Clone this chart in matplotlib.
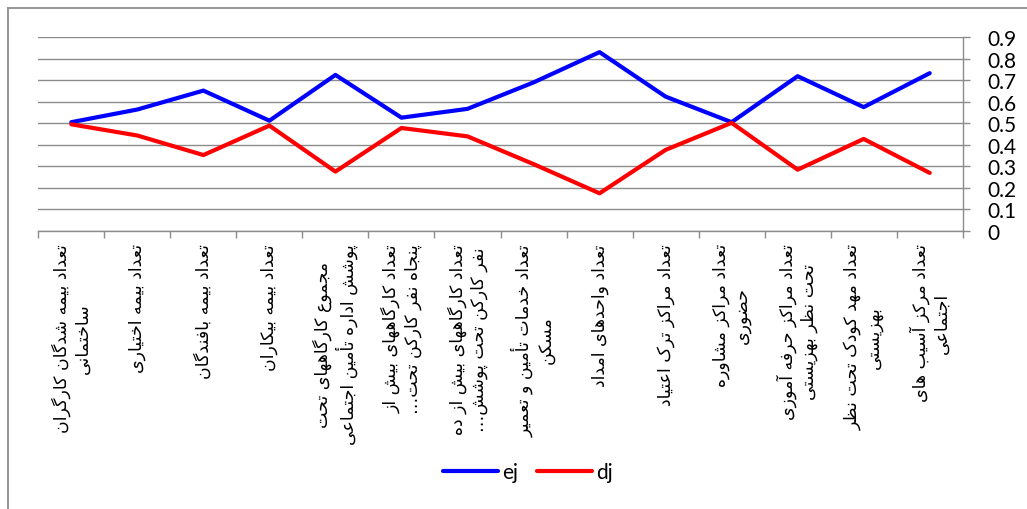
import matplotlib
matplotlib.use('Agg')
import matplotlib.pyplot as plt
from matplotlib.lines import Line2D
import numpy as np

categories = [
    "تعداد بیمه شدگان کارگران\nساختمانی",
    "تعداد بیمه اختیاری",
    "تعداد بیمه بافندگان",
    "تعداد بیمه بیکاران",
    "مجموع کارگاههای تحت\nپوشش اداره تأمین اجتماعی",
    "تعداد کارگاههای بیش از\nپنجاه نفر کارکن تحت…",
    "تعداد کارگاههای بیش از ده\nنفر کارکن تحت پوشش…",
    "تعداد خدمات تأمین و تعمیر\nمسکن",
    "تعداد واحدهای امداد",
    "تعداد مراکز ترک اعتیاد",
    "تعداد مراکز مشاوره\nحضوری",
    "تعداد مراکز حرفه آموزی\nتحت نظر بهزیستی",
    "تعداد مهد کودک تحت نظر\nبهزیستی",
    "تعداد مرکز آسیب های\nاجتماعی",
]
ej = [0.505, 0.564, 0.652, 0.512, 0.725, 0.526, 0.567, 0.690, 0.831, 0.624, 0.505, 0.719, 0.575, 0.733]
dj = [0.495, 0.443, 0.352, 0.489, 0.275, 0.478, 0.439, 0.310, 0.174, 0.376, 0.502, 0.284, 0.427, 0.269]
y_ticks = [0, 0.1, 0.2, 0.3, 0.4, 0.5, 0.6, 0.7, 0.8, 0.9]
y_tick_labels = ["0", "0.1", "0.2", "0.3", "0.4", "0.5", "0.6", "0.7", "0.8", "0.9"]
series_names = ["ej", "dj"]

# --- minimal Persian shaping (presentation forms) + RTL visual order ---
FORMS = {
    '\u0627': ('\uFE8D', '\uFE8E', None, None),
    '\u0622': ('\uFE81', '\uFE82', None, None),
    '\u0623': ('\uFE83', '\uFE84', None, None),
    '\u0628': ('\uFE8F', '\uFE90', '\uFE91', '\uFE92'),
    '\u067E': ('\uFB56', '\uFB57', '\uFB58', '\uFB59'),
    '\u062A': ('\uFE95', '\uFE96', '\uFE97', '\uFE98'),
    '\u062B': ('\uFE99', '\uFE9A', '\uFE9B', '\uFE9C'),
    '\u062C': ('\uFE9D', '\uFE9E', '\uFE9F', '\uFEA0'),
    '\u0686': ('\uFB7A', '\uFB7B', '\uFB7C', '\uFB7D'),
    '\u062D': ('\uFEA1', '\uFEA2', '\uFEA3', '\uFEA4'),
    '\u062E': ('\uFEA5', '\uFEA6', '\uFEA7', '\uFEA8'),
    '\u062F': ('\uFEA9', '\uFEAA', None, None),
    '\u0630': ('\uFEAB', '\uFEAC', None, None),
    '\u0631': ('\uFEAD', '\uFEAE', None, None),
    '\u0632': ('\uFEAF', '\uFEB0', None, None),
    '\u0698': ('\uFB8A', '\uFB8B', None, None),
    '\u0633': ('\uFEB1', '\uFEB2', '\uFEB3', '\uFEB4'),
    '\u0634': ('\uFEB5', '\uFEB6', '\uFEB7', '\uFEB8'),
    '\u0635': ('\uFEB9', '\uFEBA', '\uFEBB', '\uFEBC'),
    '\u0636': ('\uFEBD', '\uFEBE', '\uFEBF', '\uFEC0'),
    '\u0637': ('\uFEC1', '\uFEC2', '\uFEC3', '\uFEC4'),
    '\u0638': ('\uFEC5', '\uFEC6', '\uFEC7', '\uFEC8'),
    '\u0639': ('\uFEC9', '\uFECA', '\uFECB', '\uFECC'),
    '\u063A': ('\uFECD', '\uFECE', '\uFECF', '\uFED0'),
    '\u0641': ('\uFED1', '\uFED2', '\uFED3', '\uFED4'),
    '\u0642': ('\uFED5', '\uFED6', '\uFED7', '\uFED8'),
    '\u06A9': ('\uFB8E', '\uFB8F', '\uFB90', '\uFB91'),
    '\u06AF': ('\uFB92', '\uFB93', '\uFB94', '\uFB95'),
    '\u0644': ('\uFEDD', '\uFEDE', '\uFEDF', '\uFEE0'),
    '\u0645': ('\uFEE1', '\uFEE2', '\uFEE3', '\uFEE4'),
    '\u0646': ('\uFEE5', '\uFEE6', '\uFEE7', '\uFEE8'),
    '\u0648': ('\uFEED', '\uFEEE', None, None),
    '\u0647': ('\uFEE9', '\uFEEA', '\uFEEB', '\uFEEC'),
    '\u06CC': ('\uFBFC', '\uFBFD', '\uFBFE', '\uFBFF'),
}


def _dual(c):
    return c in FORMS and FORMS[c][2] is not None


def shape_line(s):
    out = []
    n = len(s)
    for i, c in enumerate(s):
        if c not in FORMS:
            out.append(c)
            continue
        iso, fin, ini, med = FORMS[c]
        prev = s[i - 1] if i > 0 else ''
        nxt = s[i + 1] if i < n - 1 else ''
        pc = _dual(prev)
        nc = _dual(c) and (nxt in FORMS)
        if pc and nc:
            out.append(med)
        elif pc:
            out.append(fin)
        elif nc:
            out.append(ini)
        else:
            out.append(iso)
    return ''.join(reversed(out))


def shape(s):
    return '\n'.join(shape_line(line) for line in s.split('\n'))


W, H = 1027, 510
fig = plt.figure(figsize=(W / 100, H / 100), dpi=100)
fig.patch.set_facecolor('white')

left, right = 38.3, 962.7
top, bottom = 38.3, 231.7
ax = fig.add_axes([left / W, 1 - bottom / H, (right - left) / W, (bottom - top) / H])

grid_c = '#8c8c8c'
x = np.arange(len(categories))
ax.plot(x, ej, color='#0000ff', lw=3.0, solid_capstyle='round', solid_joinstyle='round', label=series_names[0], zorder=3)
ax.plot(x, dj, color='#ff0000', lw=3.0, solid_capstyle='round', solid_joinstyle='round', label=series_names[1], zorder=4)

ax.set_xlim(-0.5, len(categories) - 0.5)
ax.set_ylim(0, 0.9)

ax.yaxis.tick_right()
ax.set_yticks(y_ticks)
ax.set_yticklabels(y_tick_labels, family='Lato', fontsize=15)
ax.tick_params(axis='y', which='major', direction='out', length=5, width=1, color=grid_c, pad=13)
for t in ax.get_yticklabels():
    t.set_horizontalalignment('left')
ax.yaxis.grid(True, color=grid_c, lw=1.0)
ax.set_axisbelow(True)

ax.set_xticks(x)
ax.set_xticklabels([shape(c) for c in categories], rotation=90, ha='center', va='top',
                   multialignment='center', family='DejaVu Sans', fontsize=12.5)
ax.set_xticks(np.arange(-0.5, len(categories), 1.0), minor=True)
ax.tick_params(axis='x', which='major', length=0, pad=9)
ax.tick_params(axis='x', which='minor', direction='out', length=5, width=1, color=grid_c)

for s in ['left', 'top']:
    ax.spines[s].set_visible(False)
for s in ['right', 'bottom']:
    ax.spines[s].set_color(grid_c)
    ax.spines[s].set_linewidth(1.0)

leg = fig.legend(loc='center', bbox_to_anchor=(528 / W, 1 - 473 / H), ncol=2, frameon=False,
                 prop={'family': 'Lato', 'size': 15}, handlelength=2.65, handletextpad=0.2,
                 columnspacing=0.9)

# outer chart border
bc = '#8c8c8c'
fig.add_artist(Line2D([8 / W, 8 / W], [1 - 9 / H, 0], color=bc, lw=1.3, transform=fig.transFigure))
fig.add_artist(Line2D([8 / W, 1], [1 - 9 / H, 1 - 9 / H], color=bc, lw=1.3, transform=fig.transFigure))

fig.savefig('out.png', dpi=100, facecolor='white')
